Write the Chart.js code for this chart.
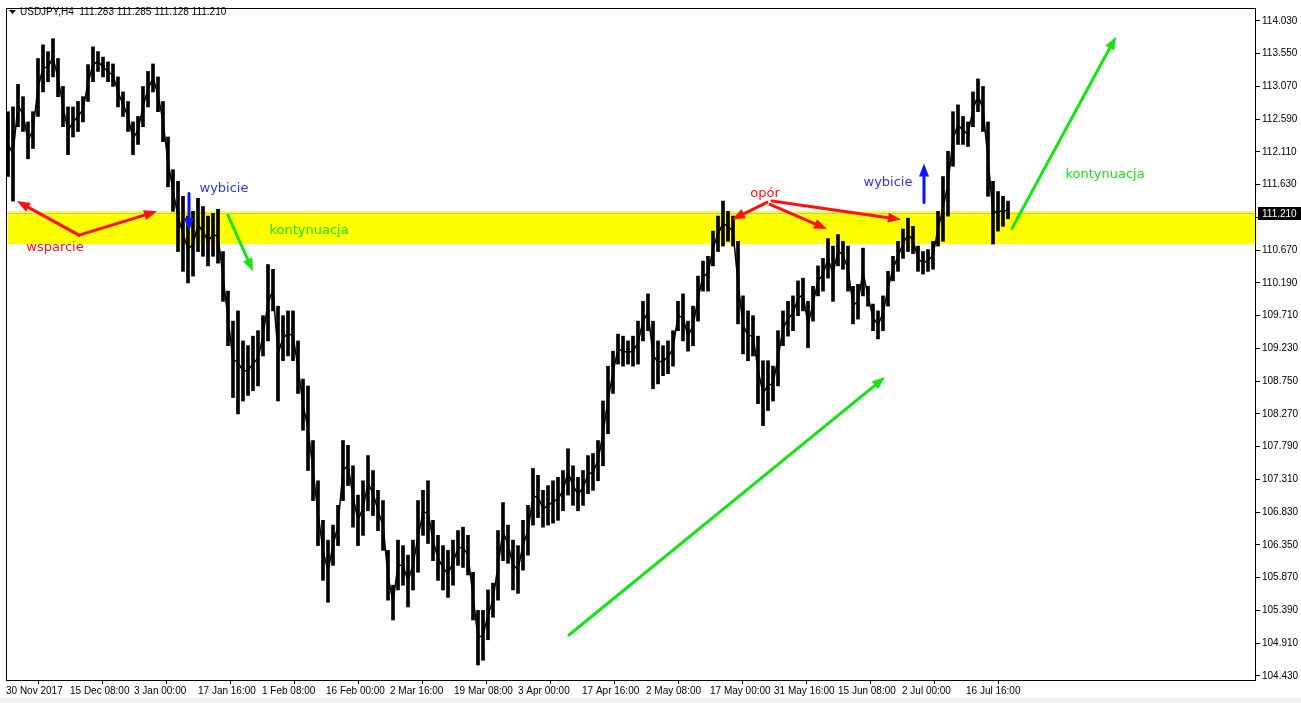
<!DOCTYPE html>
<html>
<head>
<meta charset="utf-8">
<script src="https://cdn.jsdelivr.net/npm/chart.js@4.4.1/dist/chart.umd.min.js"></script>
<style>
  html, body { margin: 0; padding: 0; background: #fff; }
  #wrap { width: 1301px; height: 703px; position: relative; }
</style>
</head>
<body>
<div id="wrap"><canvas id="c"></canvas></div>
<script>
// USDJPY H4 — każda pozycja = 5 świec H4 (max / min z grupy)
const BAR_STEP = 5;

const highs = [
  112.70,112.77,113.10,112.92,112.55,112.70,113.48,113.68,113.58,113.77,
  113.48,113.07,112.77,112.77,112.85,112.92,113.39,113.65,113.58,113.50,
  113.43,113.40,113.21,112.99,112.85,112.55,112.63,113.07,113.29,113.40,
  113.21,112.85,112.33,111.85,111.68,111.46,111.17,111.24,111.43,111.31,
  111.17,111.21,111.27,110.65,110.07,109.63,109.78,109.34,109.27,109.41,
  109.49,109.71,110.46,110.39,109.85,109.71,109.78,109.78,109.34,108.78,
  108.68,107.88,107.29,106.71,106.42,106.64,106.93,107.88,107.81,107.51,
  107.08,107.29,107.66,107.44,107.15,107.00,106.27,105.76,106.42,106.34,
  106.20,106.42,107.00,107.15,107.29,106.71,106.49,106.34,106.27,106.42,
  106.56,106.61,106.49,105.95,105.39,105.39,105.69,105.79,106.56,106.97,
  106.64,106.42,106.34,106.71,106.93,107.47,107.37,107.15,107.22,107.29,
  107.34,107.44,107.76,107.51,107.34,107.44,107.66,107.69,107.88,108.46,
  108.97,109.19,109.44,109.41,109.34,109.41,109.63,109.92,110.03,109.63,
  109.34,109.27,109.34,109.49,109.92,110.03,109.63,109.85,110.29,110.51,
  110.58,110.95,111.17,111.39,111.24,111.17,110.80,110.00,109.78,109.71,
  109.41,109.05,109.05,108.97,109.49,109.78,109.92,110.00,110.22,110.26,
  109.92,110.14,110.44,110.55,110.84,110.73,110.90,110.80,110.73,110.14,
  110.17,110.70,110.14,109.88,109.78,110.00,110.36,110.58,110.80,110.98,
  111.14,111.02,110.73,110.65,110.68,110.80,111.24,111.75,112.12,112.70,
  112.80,112.63,112.55,112.99,113.18,113.07,112.55,111.68,111.53,111.46,
  111.39
];
const lows = [
  111.75,111.39,112.48,112.41,112.01,112.16,112.63,112.99,113.14,113.21,
  112.92,112.48,112.07,112.33,112.41,112.55,112.85,113.14,113.29,113.21,
  113.14,113.07,112.77,112.63,112.41,112.07,112.22,112.48,112.77,112.99,
  112.70,112.26,111.60,111.24,110.65,110.36,110.19,110.29,110.65,110.58,
  110.44,110.58,110.48,109.92,109.27,108.51,108.27,108.46,108.54,108.61,
  108.68,109.12,109.34,109.78,108.46,109.05,109.12,109.05,108.57,108.03,
  107.44,107.00,106.34,105.83,105.51,106.05,106.34,107.00,107.22,106.61,
  106.34,106.49,106.85,106.78,106.56,106.27,105.54,105.25,105.69,105.76,
  105.44,105.69,105.95,106.49,106.37,106.12,105.83,105.69,105.58,105.76,
  106.05,106.02,105.91,105.25,104.59,104.66,104.96,105.29,105.54,106.12,
  106.08,105.69,105.64,105.98,106.20,106.64,106.75,106.61,106.64,106.67,
  106.71,106.85,107.08,106.93,106.85,106.93,107.10,107.15,107.29,107.51,
  107.98,108.57,109.00,108.97,109.00,108.97,109.00,109.34,109.49,108.64,
  108.71,108.83,108.86,108.97,109.49,109.34,109.19,109.27,109.63,110.07,
  110.07,110.44,110.65,110.73,110.80,110.73,109.59,109.15,109.05,109.12,
  108.42,108.10,108.32,108.46,108.68,109.27,109.41,109.49,109.71,109.78,
  109.24,109.63,110.00,110.07,110.26,109.92,110.44,110.39,110.07,109.59,
  109.66,110.00,109.85,109.49,109.37,109.49,109.85,110.22,110.36,110.55,
  110.65,110.62,110.36,110.32,110.36,110.39,110.73,110.80,111.17,111.90,
  112.22,112.22,112.19,112.48,112.70,112.41,111.46,110.76,110.95,111.02,
  111.13
];

// osie
const xTickBars = [0,64,128,192,256,320,384,448,512,576,640,704,768,832,896,960];
const xTickLabels = ['30 Nov 2017','15 Dec 08:00','3 Jan 00:00','17 Jan 16:00','1 Feb 08:00',
  '16 Feb 00:00','2 Mar 16:00','19 Mar 08:00','3 Apr 00:00','17 Apr 16:00','2 May 08:00',
  '17 May 00:00','31 May 16:00','15 Jun 08:00','2 Jul 00:00','16 Jul 16:00'];
const yTicks = [114.03,113.55,113.07,112.59,112.11,111.63,111.15,110.67,110.19,109.71,
  109.23,108.75,108.27,107.79,107.31,106.83,106.35,105.87,105.39,104.91,104.43];

const title = 'USDJPY,H4  111.283 111.285 111.128 111.210';
const bid = 111.21;
const zone = { from: 2, lo: 110.76, hi: 111.24 };

// adnotacje (indeks świecy, cena)
const RED = '#ff1010', GREEN = '#11e611', BLUE = '#0a14ff';
const arrows = [
  { from: [73, 110.89], to: [11, 111.39], color: RED },
  { from: [73, 110.89], to: [151, 111.24], color: RED },
  { from: [183, 111.50], to: [183, 110.95], color: BLUE },
  { from: [222, 111.18], to: [247, 110.36], color: GREEN },
  { from: [761, 111.37], to: [726, 111.12], color: RED },
  { from: [764, 111.34], to: [821, 110.98], color: RED },
  { from: [766, 111.39], to: [895, 111.12], color: RED },
  { from: [918, 111.37], to: [918, 111.94], color: BLUE },
  { from: [563, 105.03], to: [879, 108.81], color: GREEN },
  { from: [1006, 110.99], to: [1110, 113.80], color: GREEN }
];
const notes = [
  { text: 'wsparcie', at: [49, 110.71], color: RED },
  { text: 'wybicie', at: [218, 111.575], color: '#3030ff' },
  { text: 'kontynuacja', at: [303, 110.95], color: GREEN },
  { text: 'opór', at: [759, 111.50], color: RED },
  { text: 'wybicie', at: [882, 111.66], color: '#3030ff' },
  { text: 'kontynuacja', at: [1099, 111.78], color: GREEN }
];

const FONT = '"Liberation Sans", Arial, sans-serif';
const bars = highs.map((h, i) => ({ x: i * BAR_STEP + 2, y: [lows[i], h] }));
const mids = highs.map((h, i) => ({ x: i * BAR_STEP + 2, y: (h + lows[i]) / 2 }));

const drawArrow = (ctx, x1, y1, x2, y2, color) => {
  const a = Math.atan2(y2 - y1, x2 - x1);
  const len = 13, w = 5;
  const bx = x2 - len * Math.cos(a), by = y2 - len * Math.sin(a);
  ctx.strokeStyle = color; ctx.fillStyle = color;
  ctx.lineWidth = 3; ctx.lineCap = 'round';
  ctx.beginPath(); ctx.moveTo(x1, y1); ctx.lineTo(bx, by); ctx.stroke();
  ctx.beginPath();
  ctx.moveTo(x2, y2);
  ctx.lineTo(bx + w * Math.sin(a), by - w * Math.cos(a));
  ctx.lineTo(bx - w * Math.sin(a), by + w * Math.cos(a));
  ctx.closePath(); ctx.fill();
};

const decor = {
  id: 'decor',
  beforeDatasetsDraw(chart) {
    const { ctx, chartArea: ca, scales: { x, y } } = chart;
    ctx.save();
    ctx.fillStyle = '#ffff00';
    const zt = y.getPixelForValue(zone.hi), zb = y.getPixelForValue(zone.lo);
    ctx.fillRect(x.getPixelForValue(zone.from), zt, ca.right - x.getPixelForValue(zone.from), zb - zt);
    ctx.strokeStyle = '#c0c0c0'; ctx.lineWidth = 1;
    const by = Math.round(y.getPixelForValue(bid)) + 0.5;
    ctx.beginPath(); ctx.moveTo(ca.left, by); ctx.lineTo(ca.right, by); ctx.stroke();
    ctx.restore();
  },
  afterDraw(chart) {
    const { ctx, chartArea: ca, scales: { x, y } } = chart;
    ctx.save();
    // ramka
    ctx.strokeStyle = '#000'; ctx.lineWidth = 1;
    ctx.strokeRect(ca.left + 0.5, ca.top + 0.5, ca.right - ca.left - 1, ca.bottom - ca.top);
    // tytuł
    ctx.fillStyle = '#000';
    ctx.beginPath(); ctx.moveTo(9, 10); ctx.lineTo(16, 10); ctx.lineTo(12.5, 14); ctx.closePath(); ctx.fill();
    ctx.font = '10px ' + FONT; ctx.textBaseline = 'middle'; ctx.textAlign = 'left';
    ctx.fillText(title, 20, 12);
    // strzałki i opisy
    arrows.forEach(a => drawArrow(ctx,
      x.getPixelForValue(a.from[0]), y.getPixelForValue(a.from[1]),
      x.getPixelForValue(a.to[0]), y.getPixelForValue(a.to[1]), a.color));
    ctx.font = '13px "DejaVu Sans", sans-serif'; ctx.textAlign = 'center';
    notes.forEach(n => {
      ctx.fillStyle = n.color;
      ctx.fillText(n.text, x.getPixelForValue(n.at[0]), y.getPixelForValue(n.at[1]));
    });
    // etykieta bieżącej ceny
    const py = Math.round(y.getPixelForValue(bid));
    ctx.fillStyle = '#000';
    ctx.fillRect(ca.right + 2, py - 6, 1301 - ca.right - 2, 13);
    ctx.fillStyle = '#fff'; ctx.font = '10px ' + FONT; ctx.textAlign = 'left';
    ctx.fillText(bid.toFixed(3), ca.right + 6, py + 1);
    // dolny pasek
    ctx.fillStyle = '#f0f0f0'; ctx.fillRect(0, 698, 1301, 5);
    ctx.restore();
  }
};

new Chart(document.getElementById('c'), {
  data: {
    datasets: [{
      type: 'bar',
      data: bars,
      backgroundColor: '#000',
      borderWidth: 0,
      barThickness: 3,
      grouped: false
    }, {
      type: 'line',
      data: mids,
      borderColor: '#000',
      borderWidth: 1.5,
      pointRadius: 0,
      tension: 0
    }]
  },
  options: {
    responsive: true,
    maintainAspectRatio: false,
    animation: false,
    layout: { padding: { left: 6, top: 6, right: 0, bottom: 0 } },
    plugins: { legend: { display: false }, tooltip: { enabled: false } },
    scales: {
      x: {
        type: 'linear', min: 0, max: 1250, offset: false,
        afterBuildTicks: s => { s.ticks = xTickBars.map(v => ({ value: v })); },
        afterFit: s => { s.height = 23; },
        border: { display: false },
        grid: { drawOnChartArea: false, drawTicks: true, tickLength: 4, color: '#000' },
        ticks: {
          autoSkip: false, maxRotation: 0, align: 'start', padding: 1,
          color: '#000', font: { family: FONT, size: 10 },
          callback: (v) => xTickLabels[xTickBars.indexOf(v)] ?? ''
        }
      },
      y: {
        position: 'right', min: 104.37, max: 114.22,
        afterBuildTicks: s => { s.ticks = yTicks.map(v => ({ value: v })); },
        afterFit: s => { s.width = 45; },
        border: { display: false },
        grid: { drawOnChartArea: false, drawTicks: true, tickLength: 4, color: '#000' },
        ticks: {
          padding: 2, color: '#000', font: { family: FONT, size: 10 },
          callback: v => Number(v).toFixed(3)
        }
      }
    }
  },
  plugins: [decor]
});
</script>
</body>
</html>
